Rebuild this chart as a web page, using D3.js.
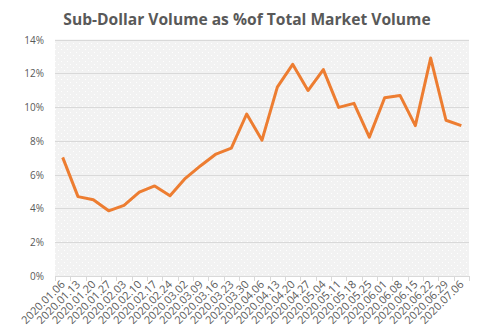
<!DOCTYPE html>
<html><head><meta charset="utf-8">
<script src="https://cdn.jsdelivr.net/npm/d3@7"></script>
<style>body{margin:0;background:#fff}svg{display:block}</style>
</head><body>
<script>
const categories = ["2020.01.06","2020.01.13","2020.01.20","2020.01.27","2020.02.03","2020.02.10","2020.02.17","2020.02.24","2020.03.02","2020.03.09","2020.03.16","2020.03.23","2020.03.30","2020.04.06","2020.04.13","2020.04.20","2020.04.27","2020.05.04","2020.05.11","2020.05.18","2020.05.25","2020.06.01","2020.06.08","2020.06.15","2020.06.22","2020.06.29","2020.07.06"];
const values = [7.02,4.70,4.51,3.86,4.18,4.96,5.33,4.75,5.78,6.53,7.22,7.57,9.59,8.04,11.18,12.53,10.98,12.22,9.98,10.22,8.22,10.55,10.69,8.90,12.90,9.22,8.90];
const yTicks = [0,2,4,6,8,10,12,14];
const title = "Sub-Dollar Volume as %of Total Market Volume";

const W=495,H=335, L=55, R=469, T=39.5, B=276;
const svg=d3.select("body").append("svg").attr("width",W).attr("height",H);
const defs=svg.append("defs");
const pat=defs.append("pattern").attr("id","dots").attr("width",6).attr("height",6).attr("patternUnits","userSpaceOnUse");
pat.append("rect").attr("width",6).attr("height",6).attr("fill","#F2F2F2");
pat.append("rect").attr("x",1).attr("y",1).attr("width",1).attr("height",1).attr("fill","#FFFFFF");
pat.append("rect").attr("x",4).attr("y",4).attr("width",1).attr("height",1).attr("fill","#FFFFFF");

const x=d3.scaleBand().domain(categories).range([L,R]);
const y=d3.scaleLinear().domain([0,14]).range([B,T]);

svg.append("rect").attr("x",L).attr("y",T).attr("width",R-L).attr("height",B-T).attr("fill","url(#dots)");

svg.append("g").selectAll("line").data(yTicks).join("line")
  .attr("x1",L).attr("x2",R).attr("y1",d=>Math.round(y(d))+0.5).attr("y2",d=>Math.round(y(d))+0.5)
  .attr("stroke","#D9D9D9").attr("stroke-width",1);

svg.append("g").selectAll("text").data(yTicks).join("text")
  .attr("x",44).attr("y",d=>y(d)+4).attr("text-anchor","end")
  .attr("font-family","Open Sans, sans-serif").attr("font-size",10).attr("fill","#595959")
  .text(d=>d+"%");

const bounds=categories.map(c=>x(c)).concat([R]);
svg.append("g").selectAll("line").data(bounds).join("line")
  .attr("x1",d=>Math.round(d)+0.5).attr("x2",d=>Math.round(d)+0.5).attr("y1",B).attr("y2",B+5)
  .attr("stroke","#D9D9D9");
svg.append("line").attr("x1",L).attr("x2",R).attr("y1",B+0.5).attr("y2",B+0.5).attr("stroke","#D9D9D9");

svg.append("g").selectAll("text").data(categories).join("text")
  .attr("transform",d=>`translate(${x(d)+x.bandwidth()/2+3},${B+9}) rotate(-45)`)
  .attr("text-anchor","end")
  .attr("font-family","Open Sans, sans-serif").attr("font-size",11).attr("fill","#595959")
  .text(d=>d);

const line=d3.line().x((d,i)=>x(categories[i])+x.bandwidth()/2).y(d=>y(d));
svg.append("path").datum(values).attr("d",line).attr("fill","none")
  .attr("stroke","#ED7D31").attr("stroke-width",3).attr("stroke-linejoin","round");

svg.append("text").attr("x",247).attr("y",25).attr("text-anchor","middle")
  .attr("font-family","Open Sans, sans-serif").attr("font-weight","bold").attr("font-size",15.6)
  .attr("fill","#595959").text(title);
</script>
</body></html>
